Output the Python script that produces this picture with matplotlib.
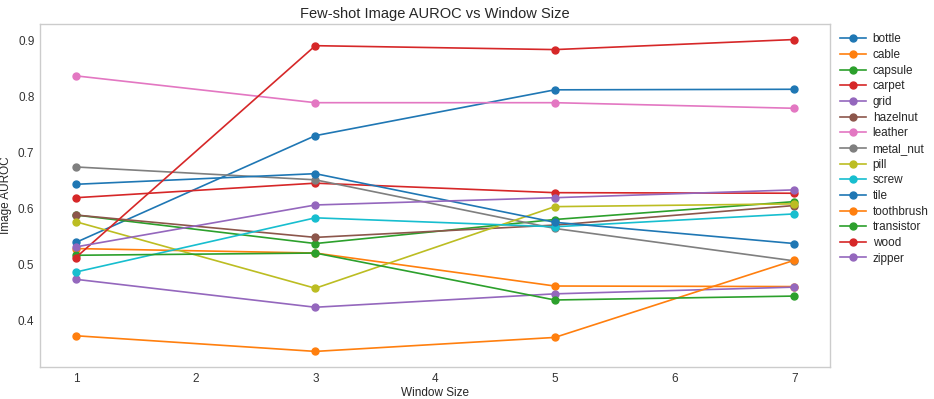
import matplotlib
matplotlib.use("Agg")
import matplotlib.pyplot as plt

window_sizes = [1, 3, 5, 7]
categories = ["bottle", "cable", "capsule", "carpet", "grid", "hazelnut", "leather",
              "metal_nut", "pill", "screw", "tile", "toothbrush", "transistor", "wood", "zipper"]

bottle = [0.539, 0.730, 0.812, 0.813]
cable = [0.528, 0.520, 0.461, 0.460]
capsule = [0.588, 0.537, 0.580, 0.612]
carpet = [0.619, 0.645, 0.628, 0.627]
grid = [0.473, 0.423, 0.447, 0.459]
hazelnut = [0.588, 0.548, 0.570, 0.605]
leather = [0.837, 0.789, 0.789, 0.779]
metal_nut = [0.674, 0.651, 0.564, 0.506]
pill = [0.576, 0.457, 0.603, 0.608]
screw = [0.486, 0.583, 0.567, 0.590]
tile = [0.643, 0.662, 0.575, 0.537]
toothbrush = [0.372, 0.344, 0.369, 0.507]
transistor = [0.516, 0.520, 0.436, 0.443]
wood = [0.512, 0.891, 0.884, 0.902]
zipper = [0.531, 0.606, 0.619, 0.633]

series = [bottle, cable, capsule, carpet, grid, hazelnut, leather, metal_nut,
          pill, screw, tile, toothbrush, transistor, wood, zipper]

plt.rcParams['font.family'] = ['Liberation Sans', 'DejaVu Sans']
colors = plt.get_cmap('tab10').colors

fig = plt.figure(figsize=(9.34, 3.99), dpi=100)
ax = fig.add_axes([0.0428, 0.0802, 0.8460, 0.8598])

for i, (name, vals) in enumerate(zip(categories, series)):
    ax.plot(window_sizes, vals, marker='o', markersize=5, linewidth=1.2,
            color=colors[i % 10], label=name)

ax.set_title("Few-shot Image AUROC vs Window Size", fontsize=10.5, color='#262626', pad=4)
ax.set_xlabel("Window Size", fontsize=8.5, color='#262626', labelpad=2)
ax.set_ylabel("Image AUROC", fontsize=8.5, color='#262626', labelpad=4)
ax.set_xticks([1, 2, 3, 4, 5, 6, 7])
ax.set_yticks([0.4, 0.5, 0.6, 0.7, 0.8, 0.9])
ax.tick_params(axis='both', labelsize=8.5, colors='#333333', length=0, pad=4)
ax.grid(False)
for s in ax.spines.values():
    s.set_color('#cccccc')
    s.set_linewidth(1.0)

leg = ax.legend(loc='upper left', bbox_to_anchor=(1.0, 1.0), frameon=False,
                fontsize=8.5, handlelength=2.2, handletextpad=0.6,
                labelspacing=0.31, borderaxespad=0.4)
for t in leg.get_texts():
    t.set_color('#262626')

fig.savefig("out.png", dpi=100)
